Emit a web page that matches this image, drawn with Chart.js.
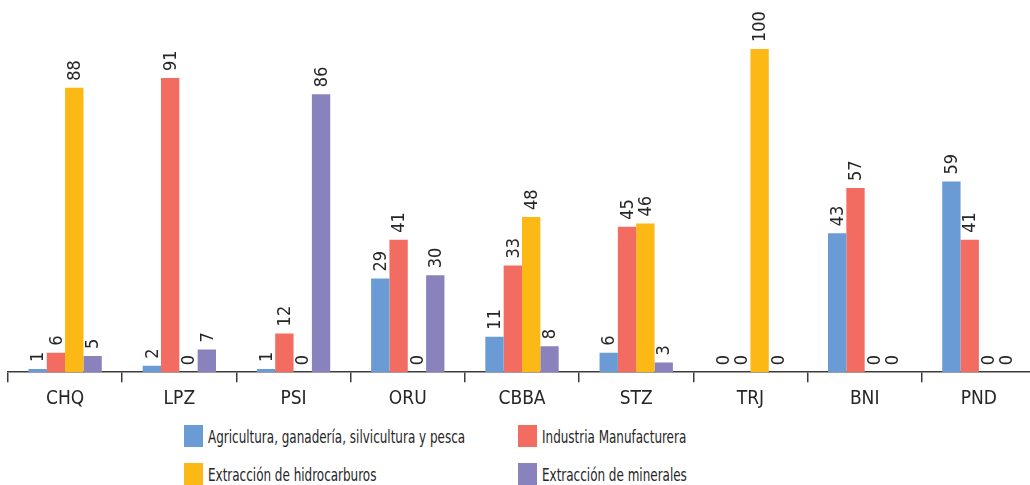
<!DOCTYPE html>
<html>
<head>
<meta charset="utf-8">
<script src="https://cdn.jsdelivr.net/npm/chart.js@4"></script>
<style>
  html, body { margin: 0; padding: 0; background: #fff; overflow: hidden; }
  #wrap { position: relative; width: 1030px; height: 485px; overflow: hidden; }
  #chart { position: absolute; left: 0; top: 0; }
  .leg { position: absolute; display: flex; align-items: center; font-family: "DejaVu Sans Condensed", "DejaVu Sans", sans-serif; font-size: 18px; color: #262626; white-space: nowrap; }
  .leg span.box { display: inline-block; width: 19px; height: 22px; margin-right: 5px; }
  .leg span.txt { display: inline-block; transform: scaleX(0.74); transform-origin: left center; }
</style>
</head>
<body>
<div id="wrap">
  <canvas id="chart" width="1036" height="415"></canvas>
  <div id="legend"></div>
</div>
<script>
document.addEventListener("DOMContentLoaded", function () {
  const categories = ["CHQ", "LPZ", "PSI", "ORU", "CBBA", "STZ", "TRJ", "BNI", "PND"];
  const seriesNames = [
    "Agricultura, ganadería, silvicultura y pesca",
    "Industria Manufacturera",
    "Extracción de hidrocarburos",
    "Extracción de minerales",
  ];
  const agricultura = [1, 2, 1, 29, 11, 6, 0, 43, 59];
  const industria = [6, 91, 12, 41, 33, 45, 0, 57, 41];
  const hidrocarburos = [88, 0, 0, 0, 48, 46, 100, 0, 0];
  const minerales = [5, 7, 86, 30, 8, 3, 0, 0, 0];
  const colors = ["#6a9bd4", "#f26c62", "#fcb814", "#8a82bd"];
  const fontFamily = '"DejaVu Sans Condensed", "DejaVu Sans", sans-serif';

  const allSeries = [agricultura, industria, hidrocarburos, minerales];

  // rotated value labels above each bar
  const valueLabels = {
    id: "valueLabels",
    afterDatasetsDraw(chart) {
      const ctx = chart.ctx;
      ctx.save();
      ctx.fillStyle = "#262626";
      ctx.font = "18px " + fontFamily;
      ctx.textAlign = "left";
      ctx.textBaseline = "middle";
      chart.data.datasets.forEach(function (ds, i) {
        const meta = chart.getDatasetMeta(i);
        meta.data.forEach(function (bar, j) {
          ctx.save();
          ctx.translate(bar.x + 1, bar.y - 7);
          ctx.rotate(-Math.PI / 2);
          ctx.fillText(String(ds.data[j]), 0, 0);
          ctx.restore();
        });
      });
      ctx.restore();
    },
  };

  const ctx = document.getElementById("chart").getContext("2d");
  new Chart(ctx, {
    type: "bar",
    data: {
      labels: categories,
      datasets: allSeries.map(function (vals, i) {
        return {
          label: seriesNames[i],
          data: vals,
          backgroundColor: colors[i],
          borderWidth: 0,
          categoryPercentage: 0.642,
          barPercentage: 1.0,
        };
      }),
    },
    options: {
      responsive: false,
      animation: false,
      layout: { padding: { left: 8, right: 0, top: 49, bottom: 0 } },
      plugins: { legend: { display: false }, tooltip: { enabled: false } },
      scales: {
        x: {
          grid: {
            offset: true,
            drawOnChartArea: false,
            drawTicks: true,
            tickLength: 10,
            color: "#3c3c3c",
            lineWidth: 1.5,
          },
          border: { display: true, color: "#3c3c3c", width: 1.5 },
          ticks: {
            color: "#262626",
            padding: 5,
            font: { family: fontFamily, size: 19 },
          },
        },
        y: {
          display: false,
          min: 0,
          max: 100,
        },
      },
    },
    plugins: [valueLabels],
  });

  const legend = document.getElementById("legend");
  const legendPos = [
    [184, 436],
    [518, 436],
    [184, 474],
    [518, 474],
  ];
  seriesNames.forEach(function (name, i) {
    const item = document.createElement("div");
    item.className = "leg";
    item.style.left = legendPos[i][0] + "px";
    item.style.top = legendPos[i][1] - 11 + "px";
    item.style.height = "22px";
    const box = document.createElement("span");
    box.className = "box";
    box.style.background = colors[i];
    const txt = document.createElement("span");
    txt.className = "txt";
    txt.textContent = name;
    item.appendChild(box);
    item.appendChild(txt);
    legend.appendChild(item);
  });
});
</script>
</body>
</html>
